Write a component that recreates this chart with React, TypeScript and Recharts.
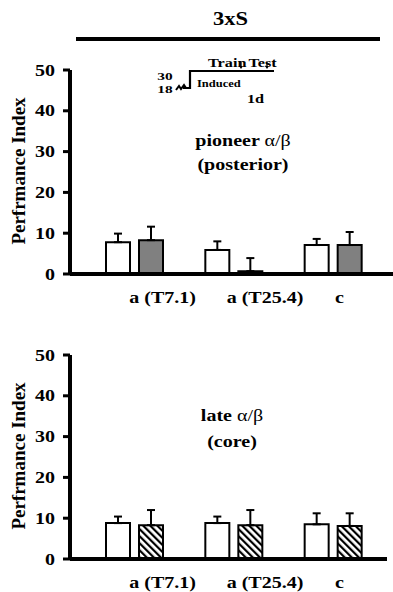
import React from 'react';
import { BarChart, Bar, XAxis, YAxis, ErrorBar } from 'recharts';

const categories = ['a (T7.1)', 'a (T25.4)', 'c'];
const yTicks = [0, 10, 20, 30, 40, 50];

const topControl = [7.8, 5.9, 7.1];
const topControlErr = [2.1, 2.1, 1.5];
const topExp = [8.3, 0.7, 7.1];
const topExpErr = [3.3, 3.2, 3.2];

const bottomControl = [8.8, 8.8, 8.5];
const bottomControlErr = [1.6, 1.6, 2.7];
const bottomExp = [8.3, 8.3, 8.1];
const bottomExpErr = [3.7, 3.7, 3.1];

const labelShift = [28, 31, 6];

const FONT = '"Liberation Serif", "Times New Roman", Times, serif';

const buildRows = (ctl: number[], ctlErr: number[], exp: number[], expErr: number[]) =>
  categories.map((name, i) => ({
    name,
    control: ctl[i],
    controlErr: [0, ctlErr[i]],
    exp: exp[i],
    expErr: [0, expErr[i]],
  }));

const topData = buildRows(topControl, topControlErr, topExp, topExpErr);
const bottomData = buildRows(bottomControl, bottomControlErr, bottomExp, bottomExpErr);

type STProps = {
  x: number;
  y: number;
  size: number;
  anchor?: 'start' | 'middle' | 'end';
  weight?: string;
  dy?: string;
  sx?: number;
  children: React.ReactNode;
};

const ST = ({ x, y, size, anchor = 'middle', weight = 'bold', dy, sx = 1.25, children }: STProps) => (
  <text
    transform={`translate(${x},${y}) scale(${sx},1)`}
    textAnchor={anchor}
    style={{ fontFamily: FONT, fontWeight: weight as any, fontSize: size }}
    dy={dy}
    fill="#000"
  >
    {children}
  </text>
);

const YTick = (props: any) => {
  const { x, y, payload } = props;
  return (
    <ST x={x} y={y} size={16} anchor="end" dy="0.35em">
      {payload.value}
    </ST>
  );
};

const XTick = (props: any) => {
  const { x, y, payload, index } = props;
  return (
    <ST x={x + labelShift[index]} y={y} size={16} anchor="middle" dy="0.35em">
      {payload.value}
    </ST>
  );
};

const Panel = ({ data, expFill, height, rightMargin, padRight }: any) => (
  <BarChart
    width={393}
    height={height}
    data={data}
    margin={{ top: 70, right: rightMargin, bottom: 0, left: 0 }}
    barSize={24}
    barGap={9}
  >
    <XAxis
      dataKey="name"
      interval={0}
      height={height - 70 - 204}
      padding={{ left: 15, right: padRight }}
      axisLine={{ stroke: '#000', strokeWidth: 4 }}
      tickLine={false}
      tickSize={0}
      tickMargin={23}
      tick={XTick}
    />
    <YAxis
      width={70}
      domain={[0, 50]}
      ticks={yTicks}
      interval={0}
      axisLine={{ stroke: '#000', strokeWidth: 4 }}
      tickLine={{ stroke: '#000', strokeWidth: 3 }}
      tickSize={7}
      tickMargin={8}
      tick={YTick}
    />
    <Bar dataKey="control" fill="#ffffff" stroke="#000" strokeWidth={2} isAnimationActive={false}>
      <ErrorBar dataKey="controlErr" width={4} stroke="#000" strokeWidth={2} direction="y" isAnimationActive={false} />
    </Bar>
    <Bar dataKey="exp" fill={expFill} stroke="#000" strokeWidth={2} isAnimationActive={false}>
      <ErrorBar dataKey="expErr" width={4} stroke="#000" strokeWidth={2} direction="y" isAnimationActive={false} />
    </Bar>
  </BarChart>
);

export default function App() {
  return (
    <div
      style={{
        position: 'absolute',
        left: 0,
        top: 0,
        width: 393,
        height: 592,
        overflow: 'hidden',
        background: '#fff',
      }}
    >
      <svg width={0} height={0} style={{ position: 'absolute' }}>
        <defs>
          <pattern id="hatch" patternUnits="userSpaceOnUse" width={5} height={5} patternTransform="rotate(-45)">
            <rect x={0} y={0} width={5} height={5} fill="#fff" />
            <rect x={0} y={0} width={2.2} height={5} fill="#000" />
          </pattern>
        </defs>
      </svg>
      <div style={{ position: 'absolute', left: 0, top: 0 }}>
        <Panel data={topData} expFill="#808080" height={320} rightMargin={0} padRight={10} />
      </div>
      <div style={{ position: 'absolute', left: 0, top: 285 }}>
        <Panel data={bottomData} expFill="url(#hatch)" height={307} rightMargin={6} padRight={4} />
      </div>
      <svg
        width={393}
        height={592}
        style={{ position: 'absolute', left: 0, top: 0, pointerEvents: 'none' }}
      >
        {/* title */}
        <ST x={230.5} y={25} size={18}>3xS</ST>
        <line x1={76} y1={39} x2={380} y2={39} stroke="#000" strokeWidth={4} />

        {/* inset protocol diagram */}
        <ST x={208} y={67} size={13} anchor="start">Train</ST>
        <ST x={248.5} y={67} size={13} anchor="start">Test</ST>
        <line x1={241} y1={62} x2={241} y2={67} stroke="#000" strokeWidth={1.2} />
        <path d="M239,66 L243,66 L241,69 Z" fill="#000" />
        <line x1={267} y1={62} x2={267} y2={67} stroke="#000" strokeWidth={1.2} />
        <path d="M265,66 L269,66 L267,69 Z" fill="#000" />
        <polyline points="183,88 190,88 190,71 274,71" fill="none" stroke="#000" strokeWidth={2.2} />
        <path d="M176,90 L179,86 L181,89 L184,85 L186,88" fill="none" stroke="#000" strokeWidth={2} />
        <ST x={165} y={79.5} size={11} sx={1.4}>30</ST>
        <ST x={165} y={92.5} size={11} sx={1.4}>18</ST>
        <ST x={197} y={87} size={10} anchor="start">Induced</ST>
        <ST x={255.5} y={103} size={13}>1d</ST>

        {/* annotations */}
        <text
          transform="translate(243,145.5) scale(1.25,1)"
          textAnchor="middle"
          style={{ fontFamily: FONT, fontSize: 16, fontWeight: 'bold' }}
        >
          pioneer <tspan style={{ fontWeight: 'normal' }}>α/β</tspan>
        </text>
        <ST x={243} y={170} size={16}>(posterior)</ST>
        <text
          transform="translate(232,420.5) scale(1.25,1)"
          textAnchor="middle"
          style={{ fontFamily: FONT, fontSize: 16, fontWeight: 'bold' }}
        >
          late <tspan style={{ fontWeight: 'normal' }}>α/β</tspan>
        </text>
        <ST x={232} y={446.5} size={16}>(core)</ST>

        {/* y-axis titles */}
        <text
          transform="translate(25,171) rotate(-90)"
          textAnchor="middle"
          style={{ fontFamily: FONT, fontWeight: 'bold', fontSize: 19 }}
        >
          Perfrmance Index
        </text>
        <text
          transform="translate(25,456) rotate(-90)"
          textAnchor="middle"
          style={{ fontFamily: FONT, fontWeight: 'bold', fontSize: 19 }}
        >
          Perfrmance Index
        </text>
      </svg>
    </div>
  );
}
